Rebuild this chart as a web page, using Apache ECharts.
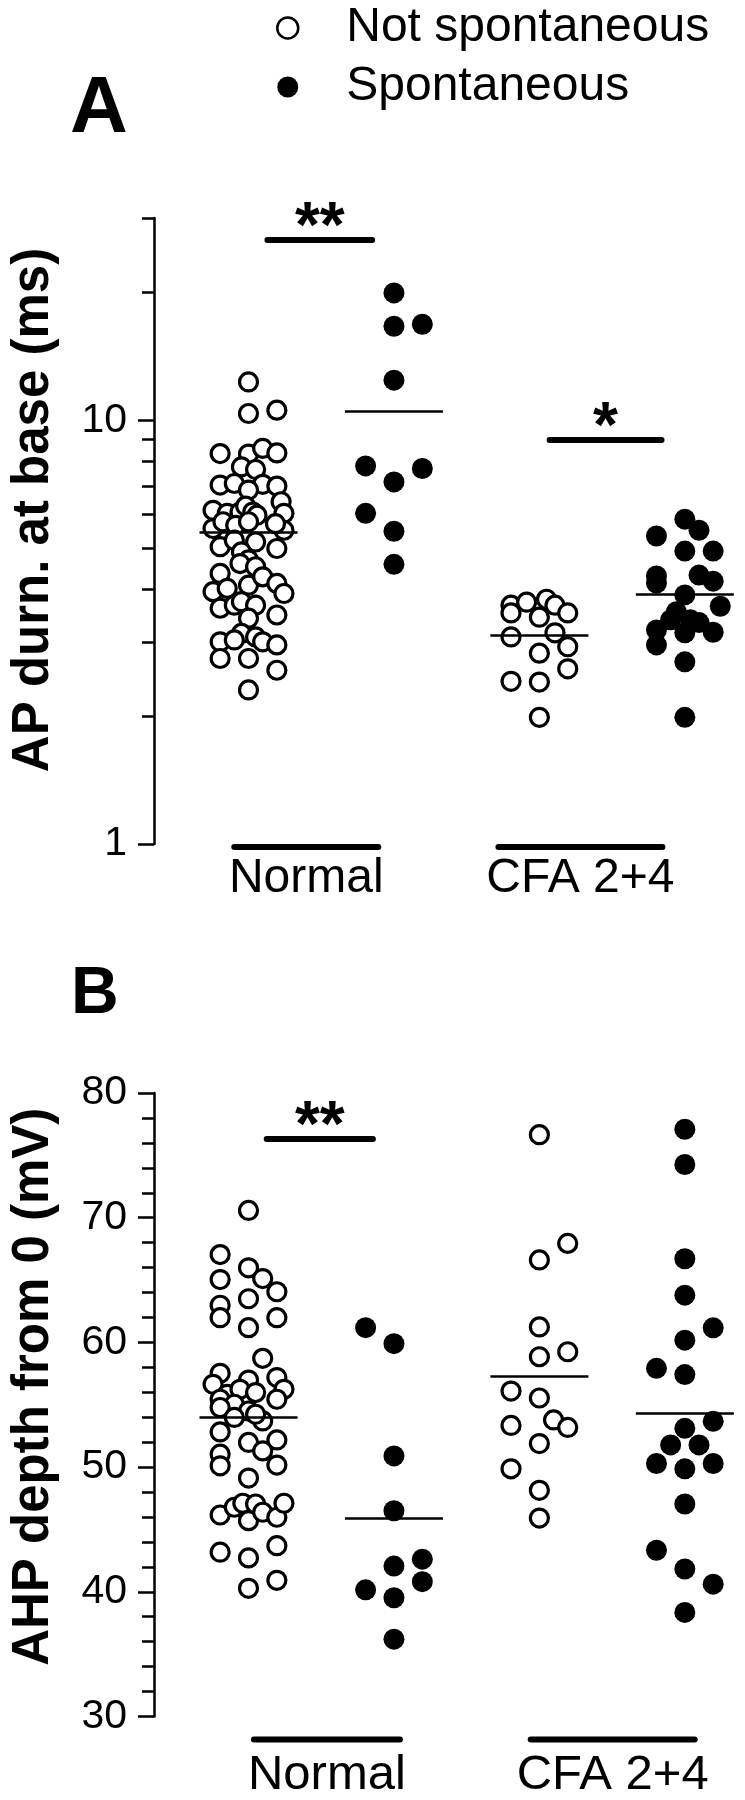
<!DOCTYPE html>
<html>
<head>
<meta charset="utf-8">
<script src="https://cdn.jsdelivr.net/npm/echarts@6/dist/echarts.min.js"></script>
<style>html,body{margin:0;padding:0;background:#fff}#c{width:745px;height:1800px}</style>
</head>
<body>
<div id="c"></div>
<script>
// ---------------- data ----------------
const categories = ['Normal', 'CFA 2+4'];
const seriesNames = ['Not spontaneous', 'Spontaneous'];

// Panel A: AP duration at base (ms), log scale
const normalNotSpontA = [12.31,10.37,10.56,8.34,8.32,8.58,8.37,7.76,7.65,7.03,
  7.09,7.06,6.99,6.84,6.13,6.42,6.03,6.03,6.07,6.27,
  6.07,5.97,5.55,5.76,5.50,5.65,5.76,5.70,5.03,5.21,
  5.16,4.98,4.89,4.68,4.59,4.51,4.35,3.94,4.01,4.08,
  4.27,4.12,3.90,3.60,3.66,3.73,3.66,3.47,3.41,3.14,
  3.00,3.03,3.08,3.00,2.95,2.74,2.74,2.57,2.31];
const normalNotSpontAJitter = [0,0,1,-1,0,0.5,1,-0.25,0.25,-1,
  -0.5,0.5,1,0,-1.25,1.15,1.25,-0.75,-0.3,-0.1,
  0.15,0.3,-1.25,-0.9,1.25,-0.45,0,0.95,-1,-0.5,
  0.25,1,-0.25,0,-0.3,0.25,-1,-1.25,-0.75,0,
  0.5,1,1.25,-1,-0.5,-0.25,0.25,1,0,-0.25,
  -1,-0.5,0.25,0.5,1,-1,0,1,0];
const normalSpontA = [19.97,16.66,16.84,12.43,7.80,7.69,7.15,6.03,5.47,4.57];
const normalSpontAJitter = [0,0,1,0,-1,1,0,-1,0,0];
const cfaNotSpontA = [3.66,3.72,3.78,3.66,3.51,3.43,3.51,3.08,3.15,2.92,2.82,2.59,2.42,2.41,1.99];
const cfaNotSpontAJitter = [-1,-0.45,0.25,0.55,-1,0,1,-1,0.55,1,0,1,-1,0,0];
const cfaSpontA = [5.84,5.5,5.33,4.91,4.91,4.29,4.13,4.31,4.17,3.87,3.64,3.53,3.38,3.38,3.33,3.2,3.15,3.16,2.95,2.69,1.99];
const cfaSpontAJitter = [0,0.5,-1,0,1,-1,-1,0.5,1,0,1.25,-0.3,-0.5,0.2,0.5,-1,0,1,-1,0,0];
const meansA = [5.45, 10.5, 3.11, 3.88];
const sigA = [{from:1.13, to:1.85, at:26.6, text:'**'}, {from:3.07, to:3.84, at:8.97, text:'*'}];
const yLabelsA = [1, 10];
const yMinorTicksA = [2,3,4,5,6,7,8,9,20,30];

// Panel B: AHP depth from 0 (mV)
const normalNotSpontB = [70.58,67.04,65.98,65.12,65.04,64.06,63.5,62.98,61.98,61.98,
  61.18,58.72,57.52,56.64,56.98,57.18,56.24,55.84,56.24,55.98,
  55.44,55.44,55.04,54.78,54.5,53.98,53.7,54.24,52.82,51.98,
  52.18,51.3,51.04,50.1,50.16,49.12,46.16,46.78,47.1,45.7,
  47.04,46.38,45.98,47.1,43.18,42.72,43.7,40.28,40.92];
const normalNotSpontBJitter = [0,-1,0,0.5,-1,1,0,-1,-1,1,
  0,0.5,-1,-1.25,0,1,1.25,-0.75,-0.3,0.25,
  -1,1,-0.5,-1,0,-0.5,0.5,0.25,-1,0,
  1,0.5,-1,-1,1,0,-1,-0.5,-0.2,0,
  0.25,0.5,1,1.25,-1,0,1,0,1];
const normalSpontB = [61.18,59.9,50.9,46.5,42.06,42.62,40.81,40.16,39.52,36.2];
const normalSpontBJitter = [-1,0,0,0,0,1,1,-1,0,0];
const cfaNotSpontB = [76.66,66.61,67.94,61.24,58.85,59.25,56.1,55.54,53.34,53.78,53.18,51.89,49.86,48.14,45.91];
const cfaNotSpontBJitter = [0,0,1,0,0,1,-1,0,-1,0.5,1,0,-1,0,0];
const cfaSpontB = [77.09,74.27,66.71,63.79,61.17,60.18,57.92,57.42,53.67,53.11,51.78,51.78,50.29,49.86,50.29,47.04,43.33,41.83,40.61,38.35];
const cfaSpontBJitter = [0,0,0,0,1,0,-1,0,1,0,-0.5,0.5,-1,0,1,0,-1,0,1,0];
const meansB = [54.0, 45.9, 57.26, 54.34];
const sigB = [{from:1.125, to:1.855, at:76.3, text:'**'}];
const yLabelsB = [30,40,50,60,70,80];
const yMinorTicksB = [32,34,36,38,42,44,46,48,52,54,56,58,62,64,66,68,72,74,76,78];

// ---------------- layout / style ----------------
const FONT = '"Liberation Sans", Arial, Helvetica, sans-serif';
const groupPos = [1, 2, 3, 4];
const JIT = 0.195;
const MEAN_HALF = 0.337;
const catPosA = [1.397, 3.282], catPosB = [1.539, 3.504];
const barWA = [150, 170], barWB = [152, 170];

function pts(vals, jit, g) { return vals.map((v, i) => [groupPos[g] + jit[i] * JIT, v]); }
function meanLine(g, m) {
  return [{coord: [groupPos[g] - MEAN_HALF, m]}, {coord: [groupPos[g] + MEAN_HALF, m]}];
}
function sigLine(s) {
  return [{coord: [s.from, s.at], lineStyle: {width: 6, cap: 'round', color: '#000'},
           label: {show: true, formatter: s.text, position: 'insideMiddleTop', distance: 1,
                   fontSize: 64, fontWeight: 'bold', color: '#000', fontFamily: FONT, lineHeight: 20}},
          {coord: [s.to, s.at]}];
}
function markLines(items) {
  return {silent: true, symbol: ['none', 'none'], animation: false, z: 5,
          label: {show: false}, emphasis: {disabled: true},
          lineStyle: {color: '#000', width: 2.6, type: 'solid', opacity: 1}, data: items};
}
const openStyle = {color: '#fff', borderColor: '#000', borderWidth: 3.2, opacity: 1};
const fillStyle = {color: '#000', opacity: 1};

function xAxisFor(gi, pos, barW, margin, lh, fs) {
  return {gridIndex: gi, type: 'value', min: 0.35, max: 4.4,
    axisLine: {show: false}, axisTick: {show: false}, splitLine: {show: false},
    axisLabel: {customValues: pos, margin: margin, interval: 0,
      formatter: function (v) {
        let i = 0, d = 1e9;
        pos.forEach((p, k) => { if (Math.abs(p - v) < d) { d = Math.abs(p - v); i = k; } });
        return '{bar' + i + '|\u00a0}\n{t|' + categories[i] + '}';
      },
      rich: {
        bar0: {width: barW[0], height: 6, lineHeight: 6, fontSize: 1, backgroundColor: '#000', borderRadius: 3},
        bar1: {width: barW[1], height: 6, lineHeight: 6, fontSize: 1, backgroundColor: '#000', borderRadius: 3},
        t: {fontSize: fs, lineHeight: lh, fontFamily: FONT, color: '#000'}
      }}};
}
function yMain(gi, type, min, max, name, padLeft, labels) {
  const ax = {gridIndex: gi, type: type, min: min, max: max, position: 'left',
    name: name, nameLocation: 'middle', nameGap: 95,
    nameTextStyle: {fontSize: 51, fontWeight: 'bold', fontFamily: FONT, color: '#000', padding: [0, 0, 0, padLeft]},
    axisLine: {show: true, lineStyle: {color: '#000', width: 2.5}},
    axisTick: {show: true, customValues: labels, length: 16, lineStyle: {color: '#000', width: 2.5}},
    axisLabel: {customValues: labels, fontSize: 41, margin: 27, color: '#000', fontFamily: FONT},
    splitLine: {show: false}};
  if (type === 'log') ax.logBase = 10;
  return ax;
}
function yMinor(gi, type, min, max, ticks) {
  const ax = {gridIndex: gi, type: type, min: min, max: max, position: 'left', offset: 0,
    axisLine: {show: false},
    axisTick: {show: true, customValues: ticks, length: 12, lineStyle: {color: '#000', width: 2.5}},
    axisLabel: {show: false}, splitLine: {show: false}};
  if (type === 'log') ax.logBase = 10;
  return ax;
}

const option = {
  animation: false,
  backgroundColor: '#fff',
  textStyle: {fontFamily: FONT},
  legend: {data: [{name: seriesNames[0], itemStyle: {borderWidth: 2.5}}, {name: seriesNames[1]}],
    orient: 'vertical', left: 276, top: 2, padding: 0,
    itemWidth: 21, itemHeight: 21, itemGap: 7, icon: 'circle', selectedMode: false,
    textStyle: {fontSize: 48, lineHeight: 52, color: '#000', fontFamily: FONT, padding: [0, 0, 0, 43]}},
  grid: [
    {left: 154, top: 218, width: 589, height: 626},
    {left: 154, top: 1093, width: 589, height: 625}
  ],
  xAxis: [
    xAxisFor(0, catPosA, barWA, 0, 58, 48),
    xAxisFor(1, catPosB, barWB, 20, 66, 49)
  ],
  yAxis: [
    yMain(0, 'log', 1, 30, 'AP durn. at base (ms)', 42, yLabelsA),
    yMinor(0, 'log', 1, 30, yMinorTicksA),
    yMain(1, 'value', 30, 80, 'AHP depth from 0 (mV)', 36, yLabelsB),
    yMinor(1, 'value', 30, 80, yMinorTicksB)
  ],
  graphic: [
    {type: 'text', x: 70, y: 110, style: {text: 'A', font: 'bold 80px ' + FONT, fill: '#000', align: 'left', verticalAlign: 'middle'}},
    {type: 'text', x: 71, y: 995, style: {text: 'B', font: 'bold 66px ' + FONT, fill: '#000', align: 'left', verticalAlign: 'middle'}}
  ],
  series: [
    {name: seriesNames[0], type: 'scatter', xAxisIndex: 0, yAxisIndex: 0, symbol: 'circle', symbolSize: 18,
     itemStyle: openStyle, emphasis: {disabled: true}, z: 2,
     data: pts(normalNotSpontA, normalNotSpontAJitter, 0).concat(pts(cfaNotSpontA, cfaNotSpontAJitter, 2)),
     markLine: markLines([meanLine(0, meansA[0]), meanLine(2, meansA[2])].concat(sigA.map(sigLine)))},
    {name: seriesNames[1], type: 'scatter', xAxisIndex: 0, yAxisIndex: 0, symbol: 'circle', symbolSize: 21,
     itemStyle: fillStyle, emphasis: {disabled: true}, z: 3,
     data: pts(normalSpontA, normalSpontAJitter, 1).concat(pts(cfaSpontA, cfaSpontAJitter, 3)),
     markLine: markLines([meanLine(1, meansA[1]), meanLine(3, meansA[3])])},
    {name: seriesNames[0], type: 'scatter', xAxisIndex: 1, yAxisIndex: 2, symbol: 'circle', symbolSize: 18,
     itemStyle: openStyle, emphasis: {disabled: true}, z: 2,
     data: pts(normalNotSpontB, normalNotSpontBJitter, 0).concat(pts(cfaNotSpontB, cfaNotSpontBJitter, 2)),
     markLine: markLines([meanLine(0, meansB[0]), meanLine(2, meansB[2])].concat(sigB.map(sigLine)))},
    {name: seriesNames[1], type: 'scatter', xAxisIndex: 1, yAxisIndex: 2, symbol: 'circle', symbolSize: 21,
     itemStyle: fillStyle, emphasis: {disabled: true}, z: 3,
     data: pts(normalSpontB, normalSpontBJitter, 1).concat(pts(cfaSpontB, cfaSpontBJitter, 3)),
     markLine: markLines([meanLine(1, meansB[1]), meanLine(3, meansB[3])])}
  ]
};

const chart = echarts.init(document.getElementById('c'), null, {renderer: 'canvas', width: 745, height: 1800});
chart.setOption(option);
</script>
</body>
</html>
